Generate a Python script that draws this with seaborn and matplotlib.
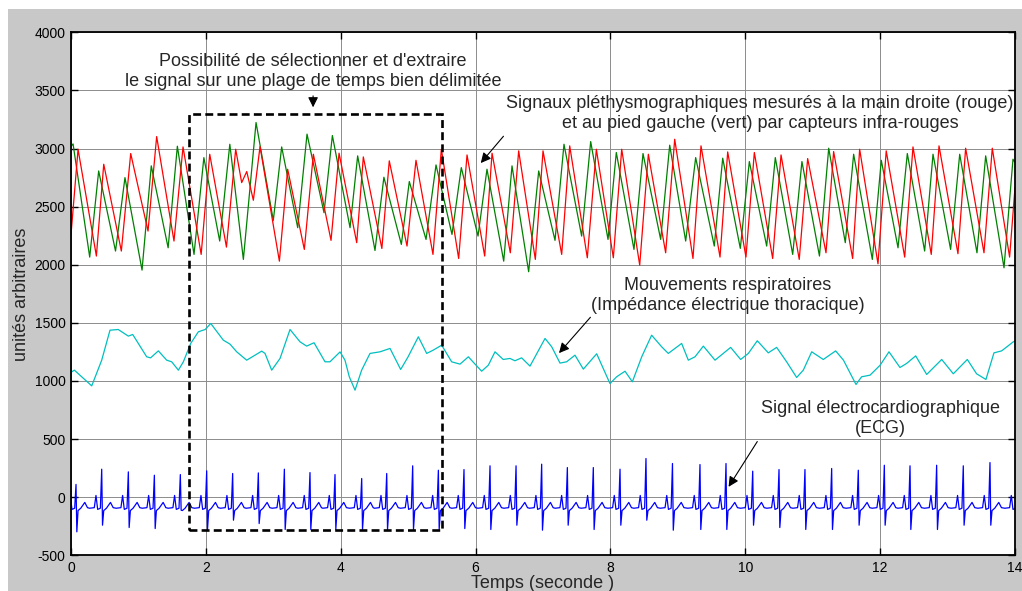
import numpy as np
import pandas as pd
import matplotlib
matplotlib.use("Agg")
import matplotlib.pyplot as plt
from matplotlib.patches import Rectangle
import seaborn as sns

# %% data read off the figure : time (s) / arbitrary units
# PPG right hand (red) : alternating troughs / peaks
red_t = [0.0, 0.104, 0.376, 0.485, 0.746, 0.885, 1.142, 1.27, 1.527, 1.661, 1.93, 2.057,
         2.305, 2.442, 2.531, 2.606, 2.704, 2.803, 3.09, 3.213, 3.46, 3.594, 3.856, 3.975,
         4.237, 4.335, 4.61, 4.72, 4.983, 5.116, 5.368, 5.492, 5.749, 5.873, 6.135, 6.244,
         6.515, 6.639, 6.886, 7.0, 7.277, 7.396, 7.657, 7.791, 8.043, 8.167, 8.434, 8.562,
         8.819, 8.953, 9.224, 9.343, 9.625, 9.739, 10.01, 10.134, 10.406, 10.53, 10.8, 10.925,
         11.197, 11.31, 11.592, 11.696, 11.968, 12.09, 12.364, 12.487, 12.758, 12.873, 13.154, 13.268,
         13.54, 13.663, 13.92, 14.0]
red_v = [2261, 2994, 2075, 2865, 2118, 2957, 2290, 3103, 2204, 3014, 2089, 2951,
         2152, 2994, 2707, 2802, 2555, 3017, 2031, 2822, 2132, 2951, 2210, 2960,
         2190, 2928, 2140, 2894, 2161, 2899, 2089, 2994, 2054, 2945, 2075, 2960,
         2103, 2980, 2046, 2980, 2089, 3023, 2060, 2994, 2060, 2994, 1997, 2951,
         2103, 3080, 2054, 3023, 2066, 2971, 2066, 2966, 2054, 2945, 2046, 2914,
         2103, 2974, 2054, 2994, 2008, 2980, 2066, 3014, 2089, 3023, 2095, 3003,
         2103, 3003, 2066, 2664]

# PPG left foot (green)
green_t = [0.0, 0.03, 0.277, 0.41, 0.66, 0.80, 1.053, 1.19, 1.44, 1.577, 1.824, 1.97,
           2.205, 2.355, 2.556, 2.744, 3.0, 3.124, 3.362, 3.50, 3.752, 3.876, 4.138, 4.251,
           4.508, 4.64, 4.899, 5.017, 5.265, 5.413, 5.65, 5.788, 6.036, 6.169, 6.417, 6.54,
           6.787, 6.936, 7.178, 7.311, 7.573, 7.707, 7.964, 8.087, 8.349, 8.483, 8.745, 8.879,
           9.116, 9.264, 9.54, 9.665, 9.926, 10.06, 10.317, 10.445, 10.703, 10.84, 11.1, 11.237,
           11.483, 11.607, 11.884, 12.017, 12.265, 12.403, 12.66, 12.784, 13.045, 13.18, 13.436, 13.565,
           13.837, 13.97, 14.0]
green_v = [3020, 3040, 2066, 2807, 2118, 2750, 1954, 2851, 2146, 3020, 2089, 2922,
           2204, 3037, 2046, 3224, 2382, 3014, 2319, 3124, 2448, 3112, 2319, 2937,
           2123, 2753, 2175, 2716, 2218, 2859, 2261, 2836, 2247, 2822, 2031, 2851,
           1940, 2807, 2210, 3037, 2247, 3060, 2218, 2966, 2132, 2957, 2218, 3029,
           2204, 2922, 2161, 2917, 2141, 2888, 2161, 2922, 2089, 2888, 2075, 3003,
           2190, 2951, 2046, 2899, 2146, 2957, 2118, 2951, 2132, 2951, 2103, 2937,
           1974, 2908, 2880]

# respiration (thoracic impedance, cyan)
resp_t = [0.0, 0.05, 0.307, 0.455, 0.578, 0.70, 0.85, 0.915, 1.122, 1.18, 1.295, 1.419,
          1.493, 1.592, 1.666, 1.775, 1.888, 1.99, 2.072, 2.259, 2.358, 2.457, 2.605, 2.729,
          2.828, 2.877, 2.976, 3.1, 3.248, 3.396, 3.495, 3.604, 3.767, 3.84, 3.99, 4.063,
          4.127, 4.212, 4.31, 4.434, 4.583, 4.731, 4.889, 4.999, 5.151, 5.275, 5.374, 5.497,
          5.645, 5.769, 5.893, 5.992, 6.09, 6.189, 6.288, 6.41, 6.51, 6.584, 6.683, 6.807,
          7.03, 7.129, 7.252, 7.35, 7.474, 7.598, 7.796, 7.993, 8.092, 8.216, 8.325, 8.464,
          8.611, 8.76, 8.858, 8.957, 9.056, 9.155, 9.254, 9.378, 9.551, 9.783, 9.931, 10.045,
          10.178, 10.341, 10.465, 10.613, 10.762, 10.86, 10.985, 11.157, 11.34, 11.456, 11.642, 11.725,
          11.85, 12.0, 12.131, 12.294, 12.393, 12.527, 12.69, 12.913, 13.085, 13.293, 13.43, 13.569,
          13.688, 13.802, 13.975, 14.0]
resp_v = [1075, 1093, 958, 1179, 1437, 1443, 1386, 1400, 1208, 1199, 1259, 1179,
          1165, 1093, 1165, 1323, 1423, 1443, 1495, 1351, 1317, 1251, 1179, 1222,
          1257, 1237, 1093, 1194, 1443, 1337, 1300, 1329, 1165, 1165, 1250, 1179,
          1036, 921, 1093, 1237, 1251, 1280, 1099, 1208, 1380, 1237, 1266, 1308,
          1165, 1145, 1208, 1145, 1084, 1136, 1251, 1185, 1194, 1174, 1199, 1128,
          1366, 1294, 1154, 1165, 1222, 1102, 1234, 978, 1036, 1084, 993, 1208,
          1394, 1294, 1237, 1280, 1323, 1179, 1208, 1300, 1179, 1289, 1185, 1237,
          1346, 1242, 1289, 1165, 1030, 1093, 1251, 1185, 1259, 1179, 970, 1036,
          1050, 1136, 1251, 1116, 1151, 1216, 1056, 1185, 1062, 1185, 1062, 1013,
          1242, 1259, 1337, 1343]

# ECG : R-peak times, R heights, S depths
r_time = [0.074, 0.455, 0.85, 1.236, 1.621, 2.012, 2.397, 2.778, 3.164, 3.544, 3.915, 4.311,
          4.682, 5.067, 5.448, 5.828, 6.214, 6.6, 6.98, 7.361, 7.746, 8.142, 8.527, 8.92,
          9.328, 9.714, 10.11, 10.5, 10.885, 11.281, 11.676, 12.062, 12.443, 12.838, 13.233, 13.629,
          14.03]
r_amp = [110, 241, 218, 189, 195, 227, 204, 209, 241, 212, 195, 161,
         204, 270, 232, 238, 270, 270, 284, 255, 255, 241, 333, 290,
         281, 290, 224, 238, 238, 247, 232, 275, 270, 275, 270, 298,
         250]
s_amp = [-298, -241, -261, -270, -112, -278, -198, -227, -278, -278, -278, -278,
         -278, -278, -278, -270, -278, -241, -284, -241, -278, -241, -198, -284,
         -278, -278, -241, -261, -278, -278, -241, -241, -278, -278, -241, -241,
         -250]
# one beat as seen on the trace (offset to R in s, level); None -> R / S
beat_dt = [-0.18, -0.11, -0.085, -0.06, -0.02, 0.0, 0.012, 0.03, 0.07, 0.13, 0.17]
beat_lv = [-95, -90, 15, -105, -95, None, None, -115, -95, -45, -90]

ecg_t, ecg_v = [], []
for tr, ra, sa in zip(r_time, r_amp, s_amp):
    for dt, lv in zip(beat_dt, beat_lv):
        ecg_t.append(tr + dt)
        if dt == 0.0:
            ecg_v.append(ra)
        elif dt == 0.012:
            ecg_v.append(sa)
        else:
            ecg_v.append(lv)

# %% plot
sns.set_style("white")
plt.rcParams['font.family'] = ['Liberation Sans', 'DejaVu Sans']
plt.rcParams['axes.unicode_minus'] = False

fig = plt.figure(figsize=(10.22, 5.91), dpi=100, facecolor='white')
fig.patches.append(Rectangle((8/1022, 0), 1, 1 - 9/591, transform=fig.transFigure,
                             facecolor='#c8c8c8', edgecolor='none', zorder=-10))
ax = fig.add_axes([0.0695, 0.0604, 0.92365, 0.8849])
ax.set_facecolor('white')

for tt, vv, col in [(green_t, green_v, '#008000'), (red_t, red_v, '#ff0000'),
                    (resp_t, resp_v, '#00bfbf'), (ecg_t, ecg_v, '#0000ff')]:
    sns.lineplot(x=tt, y=vv, color=col, lw=0.9, ax=ax, estimator=None, sort=False)

ax.set_xlim(0, 14)
ax.set_ylim(-500, 4000)
ax.set_xticks(np.arange(0, 15, 2))
ax.set_yticks(np.arange(-500, 4001, 500))
ax.grid(True, color='#8c8c8c', lw=0.7)
ax.set_axisbelow(True)
ax.tick_params(direction='in', top=True, right=True, bottom=True, left=True,
               length=5, width=1, labelsize=10, pad=4, colors='black')
for sp in ax.spines.values():
    sp.set_visible(True)
    sp.set_color('black')
    sp.set_linewidth(1.3)

ax.set_xlabel('Temps (seconde )', fontsize=13)
ax.set_ylabel('unités arbitraires', fontsize=13)
ax.xaxis.set_label_coords(0.5, -0.037)
ax.yaxis.set_label_coords(-0.043, 0.5)

# selection box
ax.add_patch(Rectangle((1.75, -284), 3.755, 3296 + 284, fill=False, edgecolor='black',
                       lw=1.9, linestyle=(0, (3, 1.6)), zorder=5))

arr = dict(arrowstyle='-|>', color='black', lw=0.8, mutation_scale=15)
ax.annotate('', xy=(3.59, 3331), xytext=(3.59, 3477), arrowprops=arr)
ax.annotate('', xy=(6.05, 2857), xytext=(6.44, 3124), arrowprops=arr)
ax.annotate('', xy=(7.21, 1222), xytext=(7.73, 1566), arrowprops=arr)
ax.annotate('', xy=(9.73, 69), xytext=(10.2, 499), arrowprops=arr)

txt = dict(ha='center', va='center', fontsize=13, linespacing=1.25)
ax.text(3.59, 3660, "Possibilité de sélectionner et d'extraire\n"
        "le signal sur une plage de temps bien délimitée", **txt)
ax.text(10.22, 3299, "Signaux pléthysmographiques mesurés à la main droite (rouge)\n"
        "et au pied gauche (vert) par capteurs infra-rouges", **txt)
ax.text(9.74, 1738, "Mouvements respiratoires\n(Impédance électrique thoracique)", **txt)
ax.text(12.0, 677, "Signal électrocardiographique\n(ECG)", **txt)

fig.savefig('out.png', dpi=100, facecolor=fig.get_facecolor())
